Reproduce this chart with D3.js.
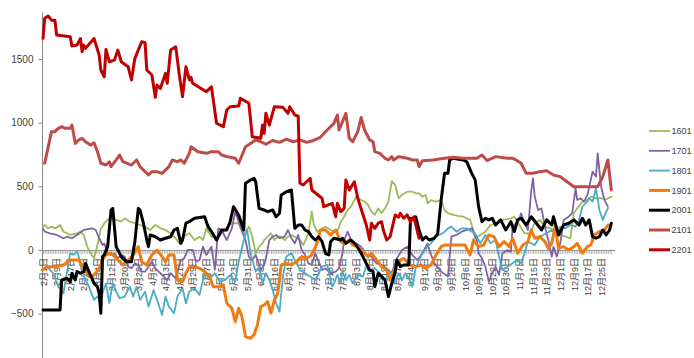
<!DOCTYPE html>
<html>
<head>
<meta charset="utf-8">
<script src="https://cdn.jsdelivr.net/npm/d3@7/dist/d3.min.js"></script>
<style>
  html, body { margin: 0; padding: 0; background: #fff; }
  svg { display: block; }
  text { font-family: "Liberation Sans", "Noto Sans CJK SC", sans-serif; }
</style>
</head>
<body>
<svg id="chart" width="694" height="358"></svg>
<script>
// Daily spread series by contract, plotted on a Feb–Dec date axis (2016 calendar).
const contracts = ["1601", "1701", "1801", "1901", "2001", "2101", "2201"];
const colors = ["#9bbb59", "#8064a2", "#4bacc6", "#f07b0f", "#000000", "#be4b48", "#c00000"];
const widths = [1.8, 1.8, 1.8, 3, 3, 3, 3];

const s1601 = [["02-01",183],["02-02",196],["02-04",170],["02-06",183],["02-08",170],["02-10",183],["02-11",196],["02-13",144],["02-17",118],["02-21",131],["02-23",144],["02-25",118],["02-27",26],["02-29",-26],["03-02",-66],["03-04",39],["03-06",170],["03-07",183],["03-08",210],["03-10",236],["03-12",249],["03-15",236],["03-18",222],["03-20",249],["03-23",222],["03-26",210],["03-29",196],["04-01",183],["04-04",157],["04-07",196],["04-10",170],["04-13",157],["04-16",131],["04-19",92],["04-21",52],["04-23",92],["04-25",118],["04-27",131],["04-30",78],["05-03",104],["05-05",78],["05-07",170],["05-10",104],["05-13",92],["05-15",118],["05-18",157],["05-20",196],["05-23",210],["05-26",210],["05-29",118],["06-01",183],["06-03",104],["06-05",-26],["06-07",26],["06-09",52],["06-10",78],["06-12",104],["06-14",131],["06-16",78],["06-18",104],["06-20",104],["06-22",78],["06-24",104],["06-26",118],["06-28",104],["07-01",78],["07-03",39],["07-06",131],["07-08",301],["07-09",210],["07-11",144],["07-13",157],["07-16",183],["07-19",157],["07-21",144],["07-23",144],["07-25",222],["07-27",261],["07-29",314],["07-31",340],["08-03",419],["08-06",392],["08-08",379],["08-10",353],["08-12",301],["08-14",275],["08-16",327],["08-18",288],["08-20",327],["08-22",379],["08-24",540],["08-26",510],["08-28",406],["08-30",432],["09-02",458],["09-05",458],["09-07",445],["09-09",445],["09-11",419],["09-13",432],["09-14",366],["09-16",392],["09-19",379],["09-22",392],["09-24",314],["09-26",288],["09-29",275],["10-02",267],["10-05",261],["10-07",249],["10-09",236],["10-11",157],["10-12",92],["10-15",118],["10-18",144],["10-21",196],["10-24",210],["10-27",236],["10-30",241],["11-02",249],["11-04",261],["11-07",196],["11-10",131],["11-13",131],["11-16",210],["11-19",236],["11-22",183],["11-25",170],["11-28",157],["12-01",118],["12-04",104],["12-07",92],["12-09",288],["12-11",327],["12-14",379],["12-17",392],["12-19",419],["12-22",406],["12-25",406],["12-28",398],["12-31",419]];

const s1701 = [["02-01",170],["02-02",144],["02-05",131],["02-09",118],["02-13",92],["02-15",104],["02-18",92],["02-21",118],["02-25",157],["03-01",170],["03-03",157],["03-05",92],["03-07",39],["03-08",52],["03-10",-26],["03-12",-39],["03-14",-26],["03-16",-66],["03-18",-39],["03-20",-52],["03-22",-131],["03-24",-144],["03-26",-105],["03-28",-118],["03-30",-170],["04-01",-170],["04-03",-131],["04-05",-92],["04-07",-144],["04-10",-183],["04-12",-209],["04-14",-236],["04-16",-183],["04-19",-222],["04-22",-79],["04-24",-66],["04-26",0],["04-29",0],["05-01",-92],["05-03",-79],["05-05",26],["05-07",-39],["05-10",26],["05-12",-157],["05-14",170],["05-16",157],["05-19",78],["05-22",170],["05-24",301],["05-26",222],["05-28",144],["05-30",78],["06-01",-52],["06-03",-79],["06-05",-39],["06-08",-157],["06-10",-118],["06-11",-66],["06-13",78],["06-15",104],["06-17",118],["06-19",92],["06-22",104],["06-24",157],["06-26",92],["06-28",52],["06-30",118],["07-02",0],["07-04",-39],["07-06",-105],["07-08",-118],["07-10",-26],["07-12",-92],["07-14",-157],["07-16",-144],["07-19",-183],["07-22",-170],["07-24",-144],["07-26",-26],["07-27",78],["07-29",144],["07-31",78],["08-03",52],["08-06",26],["08-09",-39],["08-12",-52],["08-15",-105],["08-18",-118],["08-21",-144],["08-24",-183],["08-27",-66],["08-30",0],["09-02",26],["09-05",-39],["09-08",-79],["09-11",-26],["09-14",52],["09-15",0],["09-18",-105],["09-22",-170],["09-26",-209],["09-28",104],["10-01",118],["10-04",144],["10-07",157],["10-10",170],["10-13",78],["10-14",-26],["10-16",-66],["10-18",-131],["10-20",-249],["10-22",-183],["10-24",-131],["10-26",-196],["10-28",-26],["10-31",0],["11-02",-13],["11-03",183],["11-05",210],["11-07",249],["11-08",288],["11-10",210],["11-12",157],["11-14",471],["11-15",563],["11-16",419],["11-18",314],["11-20",327],["11-22",183],["11-24",78],["11-26",-52],["11-27",26],["11-29",-52],["12-01",52],["12-03",236],["12-06",261],["12-08",288],["12-10",484],["12-11",392],["12-13",406],["12-15",379],["12-17",432],["12-20",615],["12-22",576],["12-23",759],["12-25",497],["12-27",392],["12-29",340]];

const s1801 = [["02-04",-140],["02-07",-183],["02-10",-288],["02-13",-340],["02-15",-183],["02-17",-26],["02-19",-39],["02-21",-13],["02-22",-52],["02-24",-170],["02-26",-236],["02-28",-288],["03-02",-392],["03-04",-366],["03-06",-392],["03-07",-340],["03-09",-262],["03-11",-418],["03-13",-262],["03-15",-327],["03-17",-379],["03-20",-366],["03-23",-288],["03-25",-366],["03-27",-288],["03-29",-392],["04-01",-327],["04-03",-445],["04-06",-314],["04-08",-392],["04-11",-510],["04-13",-366],["04-15",-445],["04-18",-497],["04-20",-366],["04-23",-301],["04-25",-418],["04-27",-327],["04-30",-301],["05-03",-353],["05-06",-183],["05-09",-222],["05-12",-183],["05-15",-249],["05-18",-236],["05-21",-196],["05-24",-249],["05-26",-92],["05-29",78],["05-31",157],["06-02",-26],["06-05",-170],["06-07",-131],["06-09",-262],["06-11",-183],["06-13",-236],["06-15",-314],["06-17",-418],["06-19",-484],["06-21",-209],["06-23",-52],["06-26",-26],["06-29",-105],["07-01",-157],["07-04",-183],["07-07",-209],["07-10",-236],["07-12",-183],["07-14",-131],["07-17",-118],["07-20",-288],["07-21",-262],["07-23",-196],["07-25",-262],["07-26",-170],["07-28",-236],["07-30",-196],["08-01",-262],["08-04",-196],["08-07",-209],["08-09",-131],["08-11",-170],["08-14",-144],["08-17",-183],["08-20",-236],["08-23",-170],["08-26",-262],["08-28",-183],["08-30",-236],["09-01",-183],["09-03",-222],["09-05",-288],["09-07",-144],["09-09",-79],["09-11",-26],["09-14",26],["09-16",52],["09-19",104],["09-23",131],["09-26",170],["09-28",183],["10-01",144],["10-04",170],["10-07",170],["10-10",144],["10-12",131],["10-15",52],["10-18",118],["10-21",52],["10-24",78],["10-26",-52],["10-28",-157],["10-31",-131],["11-03",-105],["11-05",-79],["11-08",-105],["11-10",-26],["11-12",65],["11-16",39],["11-19",104],["11-23",131],["11-26",157],["11-29",118],["12-01",183],["12-04",170],["12-07",196],["12-10",183],["12-12",236],["12-14",340],["12-17",379],["12-18",406],["12-20",379],["12-22",484],["12-24",314],["12-26",236],["12-28",301],["12-29",327]];

const s1901 = [["02-01",-157],["02-03",-131],["02-07",-131],["02-13",-118],["02-17",-79],["02-22",-79],["02-25",-144],["02-28",-209],["03-02",-196],["03-05",-144],["03-07",-79],["03-09",-39],["03-12",-26],["03-16",-79],["03-19",-118],["03-22",-79],["03-25",-39],["03-28",26],["03-30",-92],["04-02",-118],["04-05",-39],["04-08",0],["04-11",-52],["04-13",-92],["04-15",-39],["04-18",-39],["04-20",-236],["04-23",-249],["04-25",-183],["04-27",-131],["04-30",-131],["05-03",-144],["05-06",-170],["05-09",-209],["05-11",-288],["05-14",-288],["05-17",-275],["05-19",-418],["05-22",-458],["05-24",-563],["05-26",-458],["05-28",-524],["05-30",-681],["06-02",-693],["06-04",-667],["06-06",-589],["06-08",-445],["06-10",-432],["06-12",-406],["06-14",-497],["06-16",-392],["06-18",-340],["06-20",-118],["06-23",-105],["06-26",-118],["06-29",-92],["07-02",-52],["07-05",-66],["07-08",-39],["07-11",52],["07-13",157],["07-16",157],["07-19",118],["07-22",157],["07-25",65],["07-27",52],["07-30",78],["08-01",39],["08-04",26],["08-07",-13],["08-10",-52],["08-12",-26],["08-15",-79],["08-18",-131],["08-21",-157],["08-23",-236],["08-26",-144],["08-29",-79],["08-31",-66],["09-04",-118],["09-07",-131],["09-10",-118],["09-13",-144],["09-16",-118],["09-19",-39],["09-22",26],["09-24",39],["10-06",39],["10-09",-39],["10-11",78],["10-14",26],["10-17",39],["10-20",118],["10-23",104],["10-26",26],["10-29",65],["11-01",26],["11-03",92],["11-06",-26],["11-09",39],["11-12",65],["11-14",157],["11-16",92],["11-19",104],["11-22",65],["11-24",13],["11-26",52],["11-28",183],["11-30",13],["12-03",26],["12-06",0],["12-09",26],["12-11",52],["12-14",-26],["12-17",26],["12-19",39],["12-21",118],["12-24",144],["12-27",157],["12-29",196]];

const s2001 = [["02-01",-471],["02-11",-471],["02-12",-236],["02-15",-222],["02-17",-249],["02-18",-183],["02-20",-236],["02-21",-170],["02-23",-183],["02-25",-170],["02-26",-105],["02-28",-170],["03-02",-262],["03-04",-288],["03-05",-340],["03-06",-497],["03-07",-52],["03-08",-39],["03-10",26],["03-12",314],["03-13",327],["03-15",26],["03-18",-52],["03-21",-92],["03-24",-92],["03-26",65],["03-28",327],["03-29",314],["03-31",210],["04-02",78],["04-03",26],["04-04",118],["04-07",104],["04-10",78],["04-13",92],["04-16",104],["04-18",157],["04-20",170],["04-22",52],["04-23",78],["04-25",210],["04-27",222],["04-30",249],["05-06",261],["05-08",183],["05-10",144],["05-13",78],["05-16",157],["05-19",157],["05-21",222],["05-23",340],["05-26",275],["05-29",157],["05-30",524],["06-02",550],["06-04",563],["06-05",536],["06-07",327],["06-10",314],["06-12",301],["06-15",314],["06-17",261],["06-19",288],["06-20",432],["06-23",458],["06-26",471],["06-28",170],["06-30",196],["07-02",196],["07-04",157],["07-06",144],["07-08",104],["07-10",78],["07-12",104],["07-14",65],["07-16",-26],["07-18",-39],["07-19",65],["07-21",92],["07-25",78],["07-26",92],["07-28",52],["07-31",78],["08-03",39],["08-06",-26],["08-09",-105],["08-11",-157],["08-13",-170],["08-14",-288],["08-16",-183],["08-18",-209],["08-20",-236],["08-22",-366],["08-24",-262],["08-26",-170],["08-27",-79],["08-29",-131],["08-31",-118],["09-03",-118],["09-04",249],["09-06",236],["09-07",261],["09-09",157],["09-11",78],["09-13",104],["09-15",78],["09-18",92],["09-20",131],["09-22",392],["09-24",602],["09-26",602],["09-27",707],["09-29",720],["10-05",707],["10-07",693],["10-10",602],["10-12",550],["10-14",340],["10-16",222],["10-18",249],["10-20",236],["10-22",249],["10-24",196],["10-27",236],["10-30",157],["11-02",222],["11-04",144],["11-06",236],["11-08",249],["11-11",196],["11-14",261],["11-17",210],["11-20",157],["11-23",236],["11-26",196],["11-27",261],["11-30",118],["12-03",196],["12-06",210],["12-09",236],["12-12",196],["12-14",249],["12-16",196],["12-18",236],["12-20",104],["12-22",92],["12-24",104],["12-26",157],["12-28",118],["12-30",157],["12-31",210]];

const s2101 = [["02-02",681],["02-06",929],["02-08",929],["02-10",955],["02-12",968],["02-14",955],["02-17",955],["02-18",981],["02-20",837],["02-22",864],["02-24",877],["02-26",850],["02-29",824],["03-02",842],["03-04",772],["03-06",681],["03-09",667],["03-11",693],["03-12",654],["03-15",707],["03-17",746],["03-19",693],["03-24",667],["03-27",707],["03-29",654],["04-01",615],["04-03",589],["04-05",615],["04-08",615],["04-11",602],["04-15",654],["04-17",707],["04-20",693],["04-22",707],["04-24",681],["04-27",759],["04-28",811],["05-02",772],["05-07",759],["05-10",772],["05-14",772],["05-16",746],["05-19",733],["05-24",720],["05-26",681],["05-28",746],["05-30",811],["06-02",837],["06-05",864],["06-08",850],["06-11",830],["06-15",860],["06-19",845],["06-23",870],["06-27",850],["07-01",865],["07-05",845],["07-09",860],["07-13",885],["07-17",942],["07-21",994],["07-23",1060],["07-24",942],["07-28",1073],["07-30",877],["08-01",850],["08-04",929],["08-06",1041],["08-08",942],["08-11",864],["08-13",850],["08-14",772],["08-17",759],["08-20",720],["08-22",707],["08-24",733],["08-25",707],["08-28",733],["09-02",720],["09-05",707],["09-08",707],["09-09",654],["09-11",701],["09-17",707],["09-24",720],["09-29",728],["10-05",720],["10-13",720],["10-16",746],["10-19",702],["10-24",733],["10-31",720],["11-03",720],["11-05",707],["11-08",681],["11-11",602],["11-15",602],["11-19",615],["11-23",622],["11-27",589],["12-01",576],["12-05",536],["12-09",497],["12-23",497],["12-26",576],["12-29",707],["12-31",471]];

const s2201 = [["02-01",1662],["02-02",1819],["02-04",1837],["02-06",1805],["02-08",1805],["02-09",1688],["02-17",1675],["02-18",1601],["02-21",1609],["02-23",1661],["02-24",1557],["02-25",1609],["02-26",1583],["03-02",1661],["03-05",1531],["03-06",1413],["03-08",1360],["03-09",1574],["03-11",1478],["03-14",1491],["03-16",1570],["03-18",1478],["03-22",1439],["03-24",1335],["03-26",1505],["03-30",1635],["04-01",1628],["04-02",1413],["04-05",1374],["04-07",1199],["04-08",1295],["04-10",1269],["04-13",1387],["04-14",1309],["04-16",1570],["04-19",1596],["04-21",1387],["04-23",1204],["04-25",1439],["04-27",1335],["04-28",1356],["04-29",1309],["05-07",1243],["05-10",1282],["05-13",995],["05-17",968],["05-19",1099],["05-21",1125],["05-26",1130],["05-27",1191],["06-01",1152],["06-03",889],["06-08",877],["06-09",981],["06-10",916],["06-11",1073],["06-13",981],["06-16",1125],["06-21",1120],["06-24",1073],["06-25",1125],["06-28",1060],["06-30",1050],["07-01",524],["07-03",510],["07-07",563],["07-08",471],["07-14",406],["07-15",340],["07-20",366],["07-22",261],["07-23",366],["07-25",301],["07-27",327],["07-28",550],["07-30",471],["08-02",536],["08-04",406],["08-09",196],["08-11",78],["08-12",210],["08-14",170],["08-16",210],["08-18",222],["08-19",157],["08-21",78],["08-23",104],["08-26",275],["08-28",257],["08-29",288],["08-31",249],["09-02",275],["09-04",222],["09-06",261],["09-09",92]];

const seriesData = [s1601, s1701, s1801, s1901, s2001, s2101, s2201];

// Category labels along the date axis: every 8 days from Feb 1
const xTickDates = ["02-01","02-09","02-17","02-25","03-04","03-12","03-20","03-28","04-05","04-13","04-21","04-29","05-07","05-15","05-23","05-31","06-08","06-16","06-24","07-02","07-10","07-18","07-26","08-03","08-11","08-19","08-27","09-04","09-12","09-20","09-28","10-06","10-14","10-22","10-30","11-07","11-15","11-23","12-01","12-09","12-17","12-25"];
const yTicks = [-500, 0, 500, 1000, 1500];

const parse = d3.timeParse("%Y-%m-%d");
const toDate = s => parse("2016-" + s);

const svg = d3.select("#chart");
const axisColor = "#868686";
const textColor = "#404040";

const x = d3.scaleTime()
  .domain([parse("2016-02-01"), parse("2017-01-01")])
  .range([43, 613]);
const y = d3.scaleLinear()
  .domain([-1000, 2000])
  .range([377.3, -4.7]);

// Vertical value axis
const yAxisX = 42.5;
svg.append("line")
  .attr("x1", yAxisX).attr("x2", yAxisX)
  .attr("y1", y(1866)).attr("y2", 358)
  .attr("stroke", axisColor).attr("stroke-width", 1);

const yAxis = svg.append("g")
  .attr("transform", `translate(${yAxisX},0)`)
  .call(d3.axisLeft(y).tickValues(yTicks).tickSize(4).tickPadding(5).tickFormat(d3.format("d")));
yAxis.select(".domain").remove();
yAxis.selectAll(".tick line").attr("stroke", axisColor);
yAxis.selectAll(".tick text")
  .attr("fill", textColor)
  .style("font-size", "10px")
  .style("font-family", "'Liberation Sans', sans-serif");

// Horizontal date axis at zero: one small tick per day
const allDays = d3.timeDay.range(parse("2016-02-01"), parse("2017-01-01"));
const dayAxis = svg.append("g")
  .attr("transform", `translate(0,${y(0)})`)
  .call(d3.axisBottom(x).tickValues(allDays).tickSize(4).tickFormat(""));
dayAxis.select(".domain").attr("stroke", axisColor).attr("d", `M${yAxisX},0.5H615`);
dayAxis.selectAll(".tick line").attr("stroke", "#a6a6a6").attr("stroke-width", 0.8);

const fmt = d3.timeFormat("%-m月%-d日");
const labelAxis = svg.append("g")
  .attr("transform", `translate(0,${y(0)})`)
  .call(d3.axisBottom(x).tickValues(xTickDates.map(toDate)).tickSize(0).tickFormat(fmt));
labelAxis.select(".domain").remove();
labelAxis.selectAll(".tick text")
  .attr("transform", "rotate(-90)")
  .attr("x", -8)
  .attr("y", 0)
  .attr("dy", "0.35em")
  .style("text-anchor", "end")
  .style("font-size", "9px")
  .attr("fill", textColor);

// Series lines
const line = d3.line()
  .x(d => x(toDate(d[0])))
  .y(d => y(d[1]));

const plot = svg.append("g");
seriesData.forEach((data, i) => {
  plot.append("path")
    .datum(data)
    .attr("d", line)
    .attr("fill", "none")
    .attr("stroke", colors[i])
    .attr("stroke-width", widths[i])
    .attr("stroke-linejoin", "round")
    .attr("stroke-linecap", "round");
});

// Legend
const legend = svg.append("g");
contracts.forEach((name, i) => {
  const ly = 131 + i * 19.8;
  legend.append("line")
    .attr("x1", 649).attr("x2", 670)
    .attr("y1", ly).attr("y2", ly)
    .attr("stroke", colors[i])
    .attr("stroke-width", widths[i]);
  legend.append("text")
    .attr("x", 671.5).attr("y", ly)
    .attr("dy", "0.35em")
    .attr("fill", textColor)
    .style("font-size", "9px")
    .text(name);
});
</script>
</body>
</html>
